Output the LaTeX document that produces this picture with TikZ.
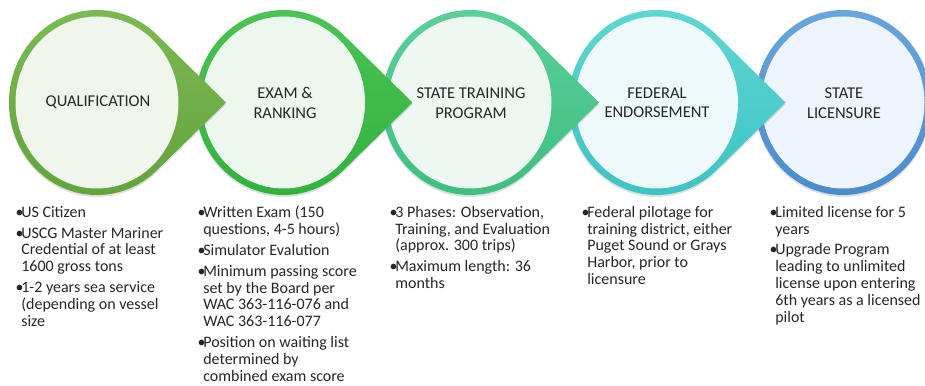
\documentclass[tikz,border=0pt]{standalone}
\usepackage{fontspec}
\setmainfont{Carlito}
\usetikzlibrary{shadows}
\definecolor{txt}{HTML}{262626}
\definecolor{aTop}{HTML}{7DBA56}\definecolor{aBot}{HTML}{62A33A}\definecolor{aIn}{HTML}{F0F6EC}
\definecolor{bTop}{HTML}{4DC457}\definecolor{bBot}{HTML}{30B13C}\definecolor{bIn}{HTML}{ECF8EE}
\definecolor{cTop}{HTML}{5CD09B}\definecolor{cBot}{HTML}{3DBE7E}\definecolor{cIn}{HTML}{EDF8F2}
\definecolor{dTop}{HTML}{60D7D4}\definecolor{dBot}{HTML}{3BC3C3}\definecolor{dIn}{HTML}{EDF9FA}
\definecolor{eTop}{HTML}{6AA5DC}\definecolor{eBot}{HTML}{4A8CCB}\definecolor{eIn}{HTML}{EEF4FB}
\newlength\bw \setlength\bw{5.6pt}
\newcommand\bul{\makebox[\bw][l]{•}}
\newcommand\ind{\hspace*{\bw}}
\newcommand\stagedrop[4]{%
  \path[shade, top color=#2, bottom color=#3,
        drop shadow={shadow xshift=0pt, shadow yshift=-2pt, opacity=0.25}]
    (#1+60.0, 350.15) arc[start angle=47, end angle=313, x radius=88, y radius=92.5]
    -- (#1+129, 282.5) -- cycle;
  \fill[#4] (#1, 282.5) ellipse[x radius=81.5, y radius=86];
}
\tikzset{
  stagelabel/.style={align=center, text=txt, inner sep=0pt,
    font=\fontsize{16.5}{19.5}\selectfont},
  listtext/.style={align=left, text=txt, inner sep=0pt, anchor=north west,
    font=\fontsize{16}{16.8}\selectfont},
}
\begin{document}
\begin{tikzpicture}[x=1pt, y=1pt]
\useasboundingbox (0,0) rectangle (925,385);
% last stage: plain circle
\shade[top color=eTop, bottom color=eBot,
       drop shadow={shadow xshift=0pt, shadow yshift=-2pt, opacity=0.25}]
  (843, 282.5) ellipse[x radius=88, y radius=92.5];
\fill[eIn] (843, 282.5) ellipse[x radius=81.5, y radius=86];
\stagedrop{656.5}{dTop}{dBot}{dIn}
\stagedrop{470}{cTop}{cBot}{cIn}
\stagedrop{283.5}{bTop}{bBot}{bIn}
\stagedrop{97}{aTop}{aBot}{aIn}

\node[stagelabel] (s1) at (98, 283) {QUALIFICATION};
\node[stagelabel] (s2) at (285, 282) {EXAM \&\\RANKING};
\node[stagelabel] (s3) at (471, 282) {STATE TRAINING\\PROGRAM};
\node[stagelabel] (s4) at (657, 282) {FEDERAL\\ENDORSEMENT};
\node[stagelabel] (s5) at (844, 282) {STATE\\LICENSURE};

\node[listtext] (l1) at (15.5, 179) {%
\bul US Citizen\\[4pt]
\bul USCG Master Mariner\\
\ind Credential of at least\\
\ind 1600 gross tons\\[4pt]
\bul 1-2 years sea service\\
\ind (depending on vessel\\
\ind size};
\node[listtext] (l2) at (197.5, 179) {%
\bul Written Exam (150\\
\ind questions, 4-5 hours)\\[4pt]
\bul Simulator Evalution\\[4pt]
\bul Minimum passing score\\
\ind set by the Board per\\
\ind WAC 363-116-076 and\\
\ind WAC 363-116-077\\[4pt]
\bul Position on waiting list\\
\ind determined by\\
\ind combined exam score};
\node[listtext] (l3) at (389.5, 179) {%
\bul 3 Phases: Observation,\\
\ind Training, and Evaluation\\
\ind (approx. 300 trips)\\[4pt]
\bul Maximum length: 36\\
\ind months};
\node[listtext] (l4) at (581.5, 179) {%
\bul Federal pilotage for\\
\ind training district, either\\
\ind Puget Sound or Grays\\
\ind Harbor, prior to\\
\ind licensure};
\node[listtext] (l5) at (769.5, 179) {%
\bul Limited license for 5\\
\ind years\\[4pt]
\bul Upgrade Program\\
\ind leading to unlimited\\
\ind license upon entering\\
\ind 6th years as a licensed\\
\ind pilot};
\end{tikzpicture}
\end{document}
